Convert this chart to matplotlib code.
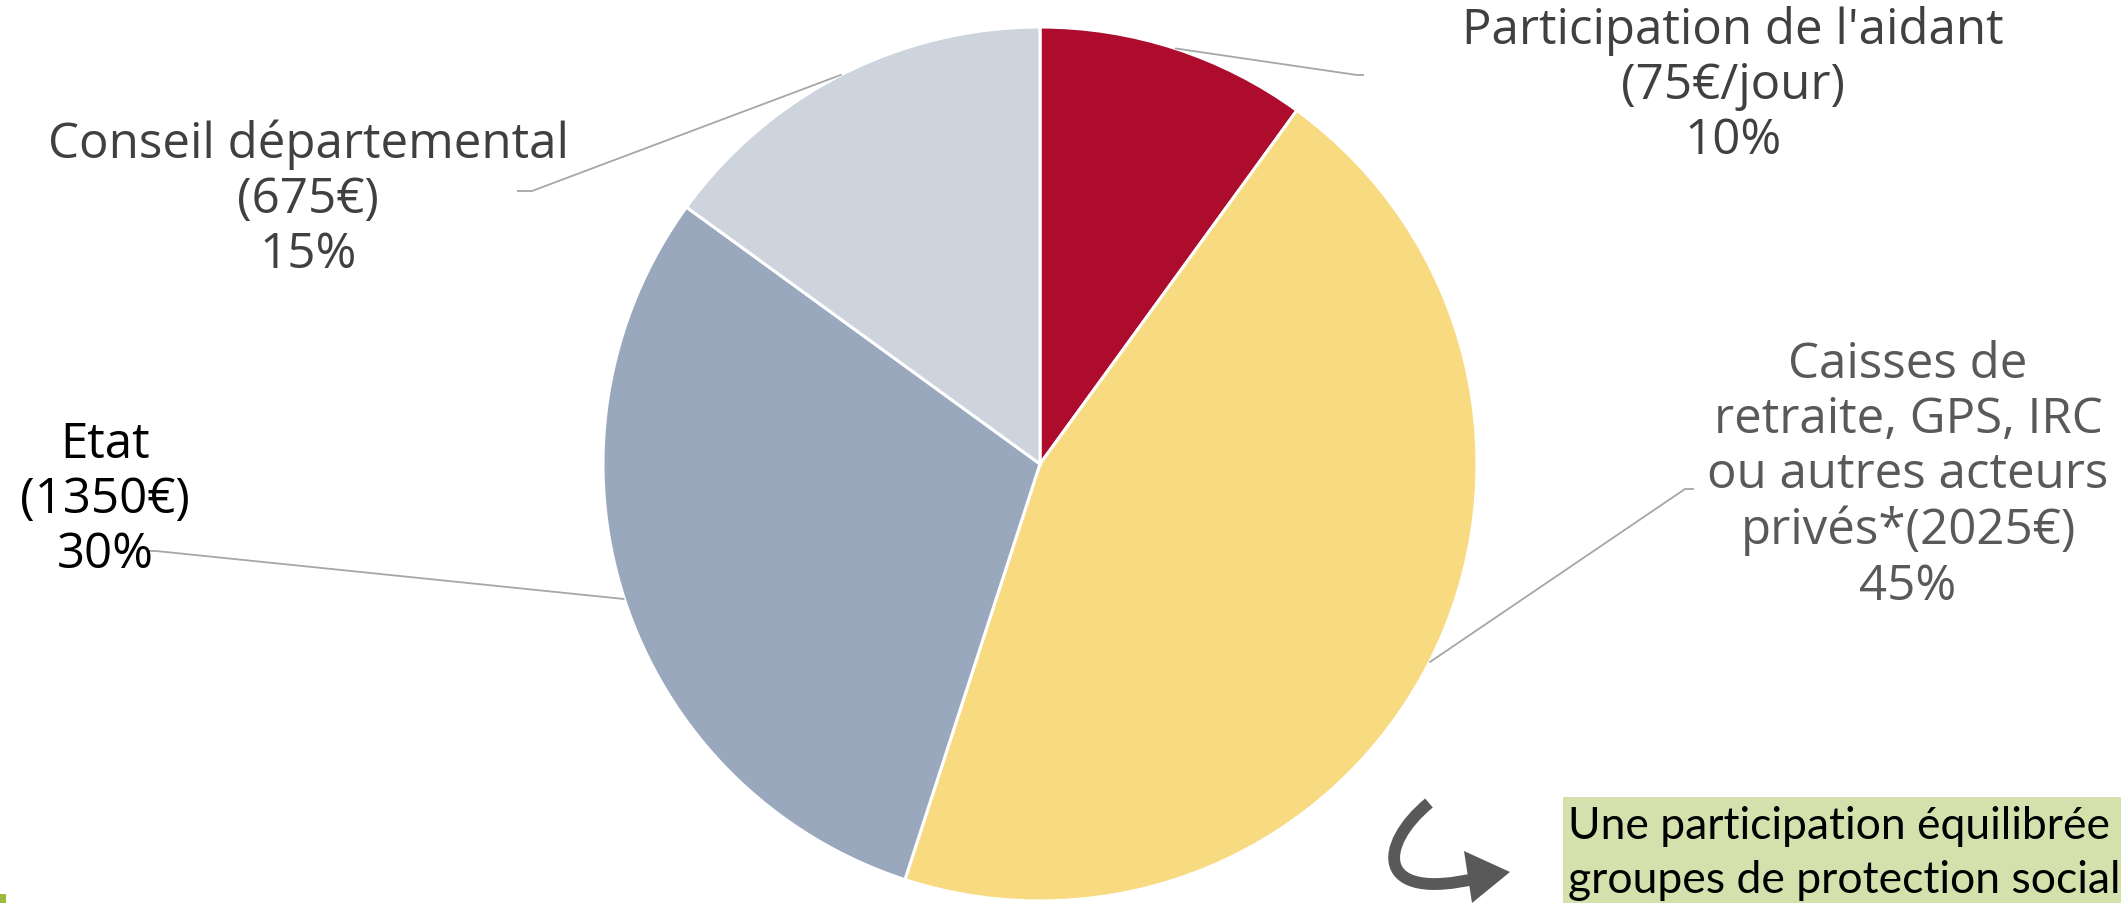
import numpy as np
import matplotlib
matplotlib.use("Agg")
import matplotlib.pyplot as plt
from matplotlib.patches import Rectangle, PathPatch, Polygon
from matplotlib.path import Path

# data
labels = ["Participation de l'aidant\n(75€/jour)", "Caisses de\nretraite, GPS, IRC\nou autres acteurs\nprivés*(2025€)",
          "Etat\n(1350€)", "Conseil départemental\n(675€)"]
shares = [10, 45, 30, 15]
colors = ["#AD0C2D", "#F8DA80", "#9AA8BE", "#CDD4DE"]
text_colors = ["#404040", "#595959", "#000000", "#404040"]
note = "Une participation équilibrée entre les\ngroupes de protection sociale"

W, H = 2121, 904
fig = plt.figure(figsize=(W / 100, H / 100), dpi=100)
ax = fig.add_axes([0, 0, 1, 1])

cx, cy, r = 1040, H - 465, 437
wedges, _ = ax.pie(shares, colors=colors, startangle=90, counterclock=False, center=(cx, cy), radius=r,
                   wedgeprops=dict(edgecolor="white", linewidth=2.2), frame=True)
ax.set_xlim(0, W); ax.set_ylim(0, H); ax.set_aspect("equal"); ax.axis("off")

# label block centres (pixel coords, y from top) and leader elbows
label_pos = [(1733, 86), (1908, 476), (105, 500), (308, 200)]
elbows = [[(1357, 76), (1364, 76)], [(1685, 490), (1694, 490)], [(156, 552), (148, 552)], [(532, 192), (517, 192)]]
for w, lab, s, tc, (lx, ly), el in zip(wedges, labels, shares, text_colors, label_pos, elbows):
    ang = np.deg2rad((w.theta1 + w.theta2) / 2)
    px, py = cx + r * np.cos(ang), cy + r * np.sin(ang)
    xs = [px] + [e[0] for e in el]; ys = [py] + [H - e[1] for e in el]
    ax.plot(xs, ys, color="#A6A6A6", lw=1.3, solid_capstyle="butt")
    ax.text(lx, H - ly, f"{lab}\n{s}%", ha="center", va="center", fontsize=35.5, color=tc,
            linespacing=1.15, family=["Open Sans", "DejaVu Sans"])

# green note box at bottom right (text runs off the page, as in the source slide)
ax.add_patch(Rectangle((1563, 0), W - 1563, H - 798, facecolor="#D4E1AD", edgecolor="none"))
ax.text(1568, H - 806, note, ha="left", va="top", fontsize=32, color="#000000", linespacing=1.4,
        family=["Lato", "DejaVu Sans"], clip_on=True)

# hand-drawn style curved arrow
body = Path([(1429, H - 804), (1378, H - 846), (1374, H - 904), (1478, H - 879)],
            [Path.MOVETO, Path.CURVE4, Path.CURVE4, Path.CURVE4])
ax.add_patch(PathPatch(body, facecolor="none", edgecolor="#595959", lw=8.5, capstyle="butt"))
ax.add_patch(Polygon([(1464, H - 852), (1510, H - 873), (1472, H - 904)], closed=True,
                     facecolor="#595959", edgecolor="none"))
ax.add_patch(Rectangle((0, 0), 6, 9, facecolor="#9BBB3D", edgecolor="none"))

fig.savefig("out.png", dpi=100)
